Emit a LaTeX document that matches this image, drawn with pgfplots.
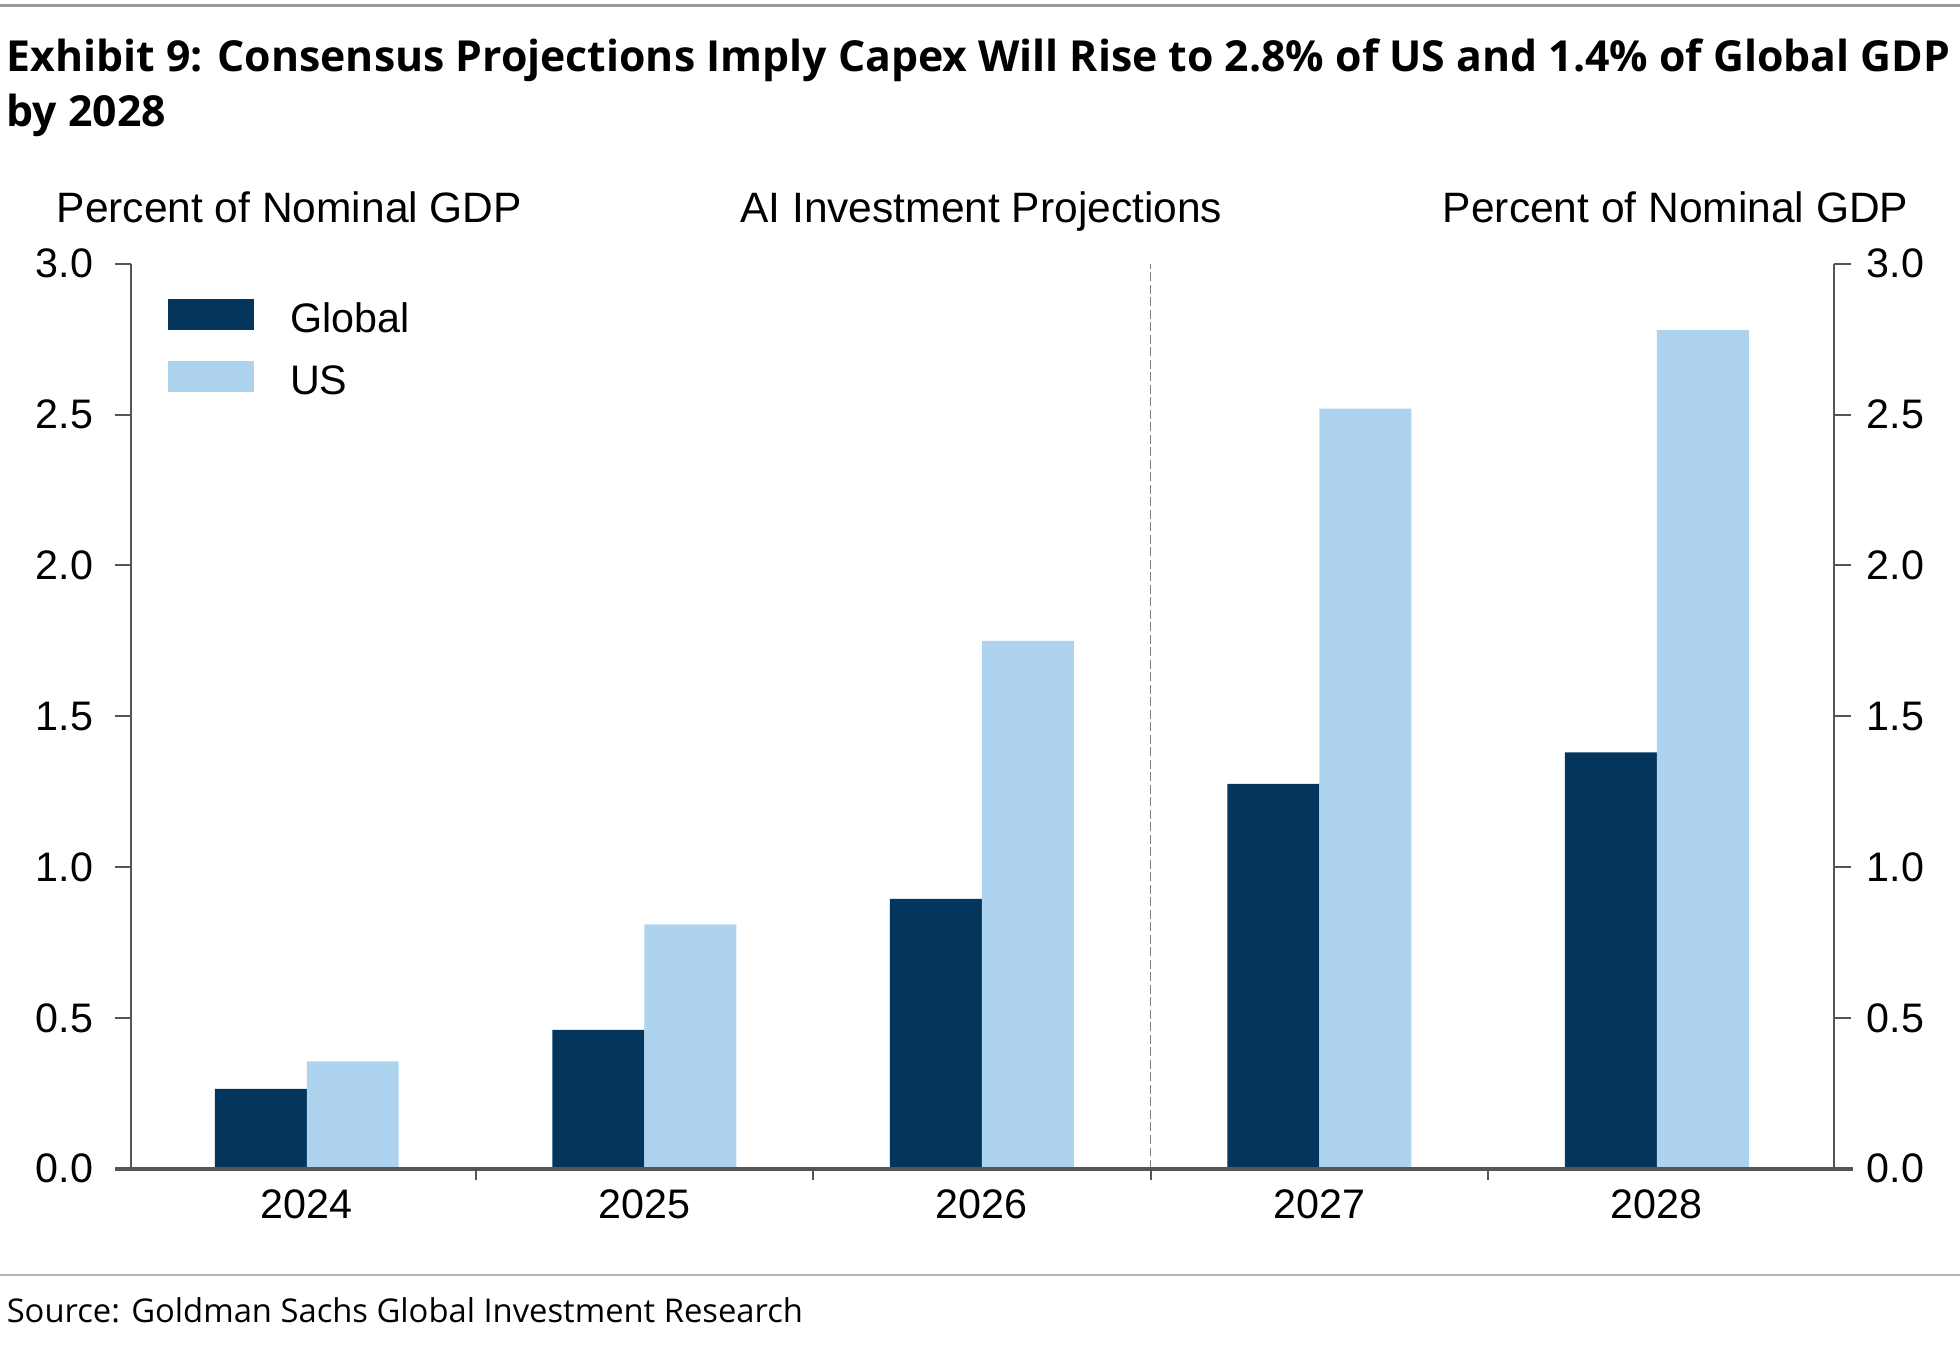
\documentclass[border=0pt]{standalone}
\usepackage{fontspec}
\setmainfont{Liberation Sans}
\newfontfamily\titlefont{Open Sans}
\usepackage{pgfplots}
\usetikzlibrary{calc}
\pgfplotsset{compat=1.18}
\definecolor{gnavy}{HTML}{03355D}
\definecolor{gblue}{HTML}{ADD3EE}
\definecolor{axgray}{HTML}{555555}
\definecolor{dashgray}{HTML}{7F7F7F}
\begin{document}
\begin{tikzpicture}[x=1pt,y=1pt]
\path[use as bounding box] (0,0) rectangle (784,538);
\draw[line width=1.2pt, color=black!40] (0,535.8) -- (784,535.8);
\node[anchor=base west, inner sep=0pt] at (2.5,509.5) {\titlefont\bfseries\fontsize{17.1}{20}\selectfont Exhibit 9: Consensus Projections Imply Capex Will Rise to 2.8\% of US and 1.4\% of Global GDP};
\node[anchor=base west, inner sep=0pt] at (2.5,487.5) {\titlefont\bfseries\fontsize{17.1}{20}\selectfont by 2028};
\draw[line width=0.7pt, color=black!30] (0,28) -- (784,28);
\node[anchor=base west, inner sep=0pt] at (2.5,9) {\titlefont\fontsize{13.1}{16}\selectfont Source: Goldman Sachs Global Investment Research};
\node[anchor=base west, inner sep=0pt] at (22.5,449) {\fontsize{17}{19}\selectfont Percent of Nominal GDP};
\node[anchor=base, inner sep=0pt] at (392.5,449) {\fontsize{17}{19}\selectfont AI Investment Projections};
\node[anchor=base east, inner sep=0pt] at (763.5,449) {\fontsize{17}{19}\selectfont Percent of Nominal GDP};
\begin{axis}[
  at={(52.5pt,70.5pt)}, anchor=south west, scale only axis,
  width=681.25pt, height=362pt,
  xmin=-0.52, xmax=4.526, ymin=0, ymax=3,
  axis x line*=bottom, axis y line*=left,
  axis line style={-, draw=axgray, line width=0.8pt},
  x axis line style={draw=none},
  xtick={0,1,2,3,4}, xticklabels={2024,2025,2026,2027,2028},
  ytick={0,0.5,1,1.5,2,2.5,3},
  tick align=outside, major tick length=6.5pt,
  tick style={draw=axgray, line width=0.8pt},
  xtick style={draw=none},
  /pgf/number format/assume math mode=true,
  yticklabel={\pgfmathprintnumber[fixed,fixed zerofill,precision=1]{\tick}},
  yticklabel style={anchor=east, inner sep=0pt, xshift=-8.5pt, font=\fontsize{16.5}{18}\selectfont},
  xticklabel style={anchor=north, inner sep=0pt, yshift=-1.7pt, font=\fontsize{16.5}{18}\selectfont},
  legend style={at={(0,1)}, anchor=north west, xshift=14.5pt, yshift=-13.5pt, draw=none, fill=none, inner sep=0pt, outer sep=0pt,
    row sep=10.75pt, nodes={inner sep=0pt, text height=14pt, text depth=0pt, font=\fontsize{16.5}{18}\selectfont},
    /tikz/every odd column/.append style={column sep=14.5pt}},
  legend cell align=left,
  legend image code/.code={\fill[#1] (0pt,-6pt) rectangle (34.5pt,6.5pt);},
  clip=false,
]
\addplot[ybar, fill=gnavy, draw=none, bar width=0.2725, bar shift=-0.13625] coordinates {(0,0.265) (1,0.46) (2,0.895) (3,1.276) (4,1.38)};
\addlegendentry{Global}
\addplot[ybar, fill=gblue, draw=none, bar width=0.2725, bar shift=0.13625] coordinates {(0,0.356) (1,0.81) (2,1.75) (3,2.52) (4,2.78)};
\addlegendentry{US}
\draw[dashgray, line width=0.6pt, dash pattern=on 3.5pt off 1.5pt] (axis cs:2.5,0) -- (axis cs:2.5,3);
\coordinate (bl) at (axis cs:-0.52,0);
\coordinate (br) at (axis cs:4.526,0);
\coordinate (s1) at (axis cs:0.5,0);
\coordinate (s2) at (axis cs:1.5,0);
\coordinate (s3) at (axis cs:2.5,0);
\coordinate (s4) at (axis cs:3.5,0);
\end{axis}
\begin{axis}[
  at={(52.5pt,70.5pt)}, anchor=south west, scale only axis,
  width=681.25pt, height=362pt,
  xmin=-0.52, xmax=4.526, ymin=0, ymax=3,
  axis x line=none, axis y line*=right,
  axis line style={-, draw=axgray, line width=0.8pt},
  ytick={0,0.5,1,1.5,2,2.5,3},
  tick align=outside, major tick length=6.5pt,
  tick style={draw=axgray, line width=0.8pt},
  /pgf/number format/assume math mode=true,
  yticklabel={\pgfmathprintnumber[fixed,fixed zerofill,precision=1]{\tick}},
  yticklabel style={anchor=west, inner sep=0pt, xshift=6.25pt, font=\fontsize{16.5}{18}\selectfont},
]
\addplot[draw=none] coordinates {(0,0)};
\end{axis}
\draw[axgray, line width=1.5pt] ($(bl)+(-6.5,0)$) -- ($(br)+(7.5,0)$);
\draw[axgray, line width=0.8pt] (s1) -- ++(0,-4.5);
\draw[axgray, line width=0.8pt] (s2) -- ++(0,-4.5);
\draw[axgray, line width=0.8pt] (s3) -- ++(0,-4.5);
\draw[axgray, line width=0.8pt] (s4) -- ++(0,-4.5);
\end{tikzpicture}
\end{document}
